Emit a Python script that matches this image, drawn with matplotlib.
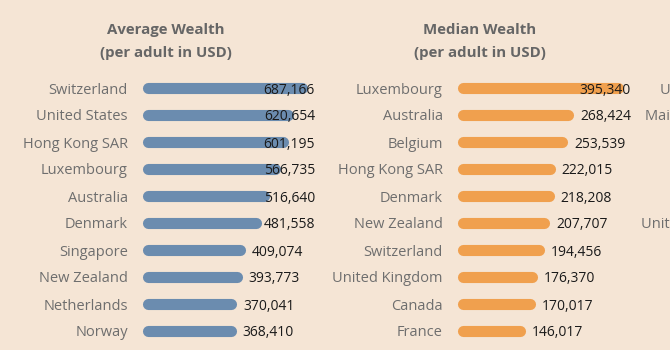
import matplotlib
matplotlib.use('Agg')
import matplotlib.pyplot as plt
import matplotlib.transforms as mtransforms

plt.rcParams['font.family'] = ['Open Sans', 'DejaVu Sans']

# data
avg_countries = ['Switzerland', 'United States', 'Hong Kong SAR', 'Luxembourg', 'Australia',
                 'Denmark', 'Singapore', 'New Zealand', 'Netherlands', 'Norway']
avg_values = [687166, 620654, 601195, 566735, 516640, 481558, 409074, 393773, 370041, 368410]

med_countries = ['Luxembourg', 'Australia', 'Belgium', 'Hong Kong SAR', 'Denmark',
                 'New Zealand', 'Switzerland', 'United Kingdom', 'Canada', 'France']
med_values = [395340, 268424, 253539, 222015, 218208, 207707, 194456, 176370, 170017, 146017]

# third panel is cut off at the right edge, only a few labels show
third_labels = ['United States', 'Mainland China', '', '', '', 'United Kingdom', '', '', '', '']

bg = '#F5E5D5'
blue = '#6B8CAF'
orange = '#F0A04E'
label_col = '#6E6E6E'
title_col = '#666666'
val_col = '#1A1A1A'

W, H = 670, 350
fig = plt.figure(figsize=(W / 100, H / 100), dpi=100, facecolor=bg)

def px_box(x0, x1):
    # rows are 27px apart, first row centre at y=88
    top, bottom = 74.5, 344.5
    return [x0 / W, (H - bottom) / H, (x1 - x0) / W, (bottom - top) / H]

ax1 = fig.add_axes(px_box(148, 315))
ax2 = fig.add_axes(px_box(463, 631))
ax3 = fig.add_axes(px_box(772, 940))

ax1.set_xlim(0, 743000)
ax2.set_xlim(0, 428600)
ax3.set_xlim(0, 1)

for ax, names in [(ax1, avg_countries), (ax2, med_countries), (ax3, third_labels)]:
    ax.set_facecolor(bg)
    ax.set_ylim(9.5, -0.5)
    ax.set_yticks(range(len(names)), labels=names)
    ax.tick_params(axis='y', length=0, pad=14.5, labelsize=10.5, labelcolor=label_col)
    ax.set_xticks([])
    for s in ax.spines.values():
        s.set_visible(False)

texts = []
for ax, vals, col in [(ax1, avg_values, blue), (ax2, med_values, orange)]:
    for i, v in enumerate(vals):
        ax.plot([0, v], [i, i], color=col, lw=8, solid_capstyle='round', zorder=2, clip_on=False)
        t = ax.annotate(f'{v:,}', xy=(v, i), xytext=(8.5, 0), textcoords='offset points',
                        ha='left', va='center_baseline', fontsize=10, color=val_col, zorder=3)
        texts.append((ax, vals, i, t))

# labels that run past the pane get pulled back inside, like tableau does
fig.canvas.draw()
r = fig.canvas.get_renderer()
for ax, vals, i, t in texts:
    right = ax.get_window_extent(r).x1
    if t.get_window_extent(r).x1 > right:
        t.remove()
        trans = mtransforms.blended_transform_factory(ax.transAxes, ax.transData)
        ax.text(1, i, f'{vals[i]:,}', transform=trans,
                ha='right', va='center_baseline', fontsize=10, color=val_col, zorder=3)

for cx, title in [(166, 'Average Wealth'), (480, 'Median Wealth')]:
    fig.text(cx / W, 1 - 30 / H, title, ha='center', va='center', fontsize=10.8,
             fontweight='bold', color=title_col)
    fig.text(cx / W, 1 - 53 / H, '(per adult in USD)', ha='center', va='center', fontsize=10.8,
             fontweight='bold', color=title_col)

fig.savefig('out.png', dpi=100, facecolor=bg)
